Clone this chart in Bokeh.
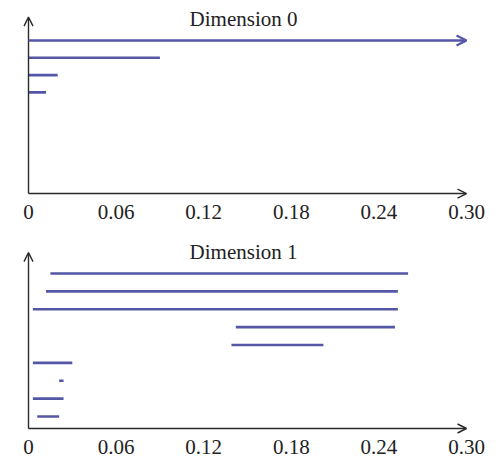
import math
from bokeh.plotting import figure
from bokeh.layouts import column
from bokeh.models import Range1d, Arrow, OpenHead, Label, ColumnDataSource
from bokeh.core.properties import value
from bokeh.embed import file_html
from bokeh.resources import INLINE

# ---- data (persistence barcodes) ----
dim0_birth = [0.0, 0.0, 0.0, 0.0]
dim0_death = [math.inf, 0.090, 0.020, 0.012]
dim1_birth = [0.015, 0.012, 0.003, 0.142, 0.139, 0.003, 0.021, 0.003, 0.006]
dim1_death = [0.260, 0.253, 0.253, 0.251, 0.202, 0.030, 0.024, 0.024, 0.021]
tick_values = [0, 0.06, 0.12, 0.18, 0.24, 0.30]
tick_labels = ["0", "0.06", "0.12", "0.18", "0.24", "0.30"]
titles = ["Dimension 0", "Dimension 1"]

X_MAX = 0.30
BAR_COLOR = "#5557a6"
AXIS_COLOR = "#2b2b2b"
TEXT_COLOR = "#222222"
FONT = "Liberation Serif"

PX_PER_UNIT = 1460.0
X_START = -28 / PX_PER_UNIT
X_END = 468 / PX_PER_UNIT


def make_panel(births, deaths, title, height, y_rng, axis_y, tip_y, title_y, label_y):
    p = figure(width=496, height=height, output_backend="svg", toolbar_location=None,
               x_range=Range1d(X_START, X_END), y_range=Range1d(*y_rng),
               min_border_left=0, min_border_right=0, min_border_top=0,
               min_border_bottom=0, x_axis_type=None, y_axis_type=None)
    p.outline_line_color = None
    p.xgrid.visible = False
    p.ygrid.visible = False

    # axes with arrows
    p.add_layout(Arrow(x_start=0, y_start=axis_y, x_end=X_MAX, y_end=axis_y,
                       line_color=AXIS_COLOR, line_width=1.4,
                       end=OpenHead(size=9, line_color=AXIS_COLOR, line_width=1.4)))
    p.add_layout(Arrow(x_start=0, y_start=axis_y, x_end=0, y_end=tip_y,
                       line_color=AXIS_COLOR, line_width=1.4,
                       end=OpenHead(size=9, line_color=AXIS_COLOR, line_width=1.4)))

    # tick labels
    tick_src = ColumnDataSource(dict(x=tick_values, y=[label_y] * len(tick_values),
                                     t=tick_labels))
    p.text(x="x", y="y", text="t", source=tick_src, text_align="center",
           text_baseline="alphabetic", text_font=value(FONT),
           text_font_size="21px", text_color=TEXT_COLOR)

    rows = list(range(len(births)))
    finite_x0, finite_x1, finite_y = [], [], []
    for r, b, d in zip(rows, births, deaths):
        if math.isinf(d):
            p.add_layout(Arrow(x_start=b, y_start=r, x_end=X_MAX, y_end=r,
                               line_color=BAR_COLOR, line_width=2.4,
                               end=OpenHead(size=10, line_color=BAR_COLOR, line_width=2.2)))
        else:
            finite_x0.append(b)
            finite_x1.append(d)
            finite_y.append(r)
    p.segment(x0=finite_x0, y0=finite_y, x1=finite_x1, y1=finite_y,
              line_color=BAR_COLOR, line_width=2.6)

    p.add_layout(Label(x=0.1473, y=title_y, text=title, text_align="center",
                       text_baseline="alphabetic", text_font=FONT,
                       text_font_size="21px", text_color=TEXT_COLOR))
    return p


p1 = make_panel(dim0_birth, dim0_death, titles[0], 232,
                (11.098, -2.312), 8.844, -1.35, -1.27, 9.89)
p2 = make_panel(dim1_birth, dim1_death, titles[1], 231,
                (10.629, -2.294), 8.671, -1.17, -1.20, 9.73)

layout = column(p1, p2, spacing=0)
open("out.html", "w").write(file_html(layout, INLINE))
